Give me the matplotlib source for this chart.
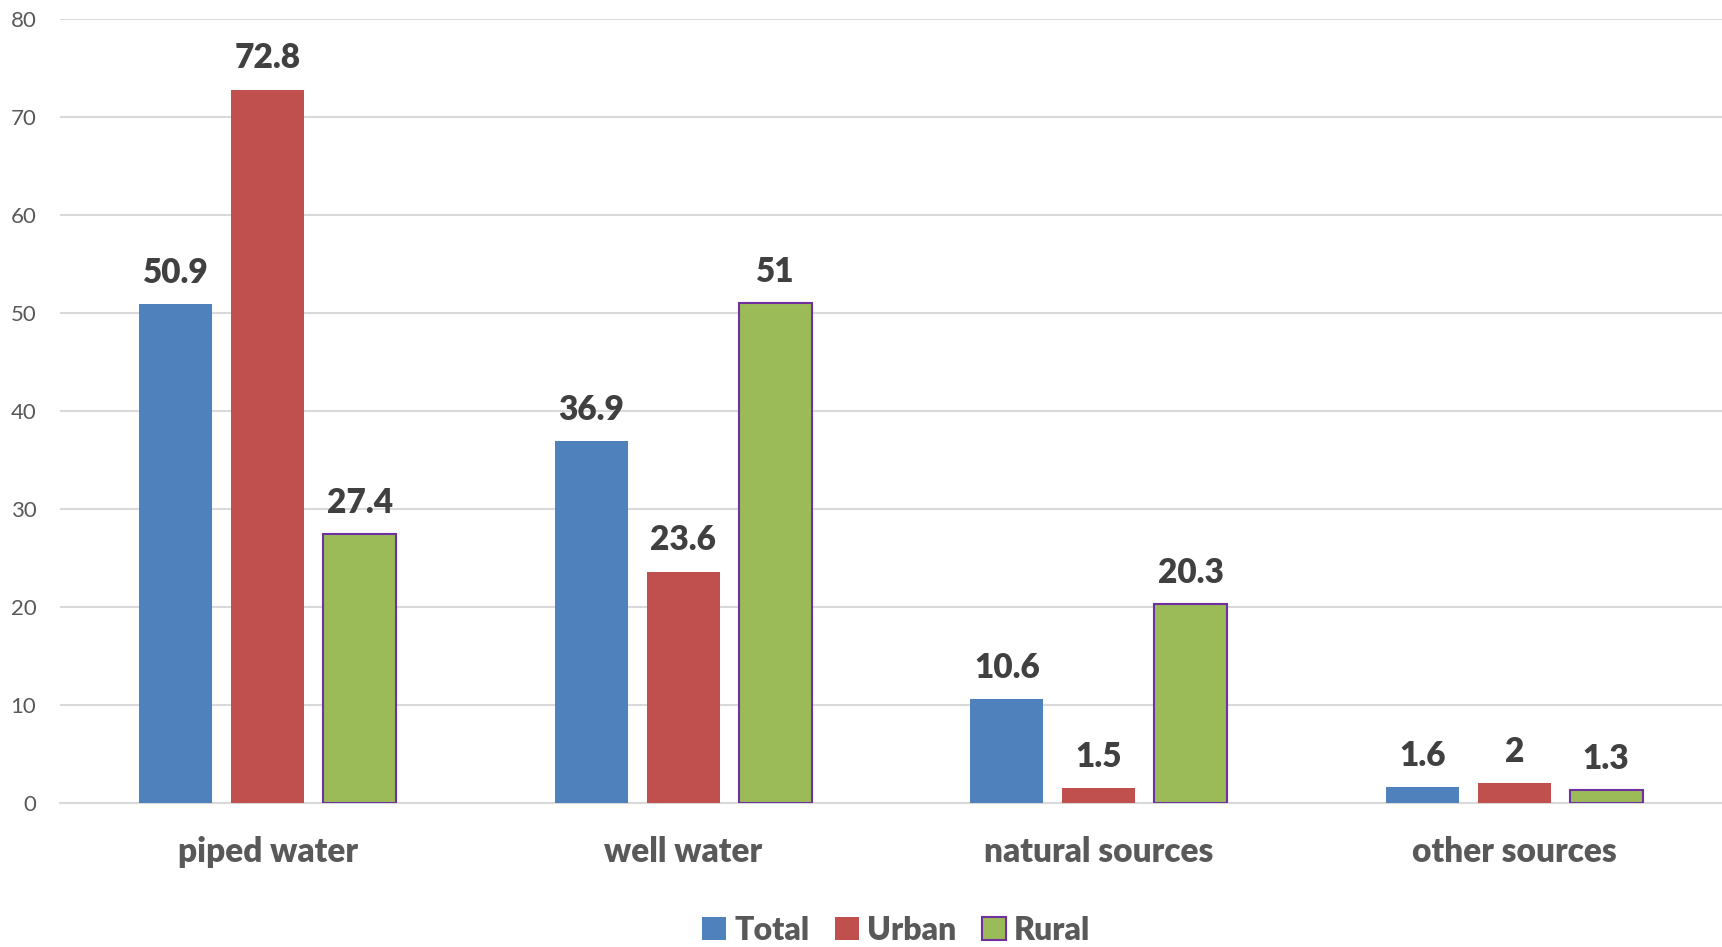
import matplotlib
matplotlib.use("Agg")
import matplotlib.pyplot as plt
import numpy as np

categories = ["piped water", "well water", "natural sources", "other sources"]
total = [50.9, 36.9, 10.6, 1.6]
urban = [72.8, 23.6, 1.5, 2]
rural = [27.4, 51, 20.3, 1.3]
series_names = ["Total", "Urban", "Rural"]
colors = ["#4F81BD", "#C0504D", "#9BBB59"]
edges = [None, None, "#7030A0"]

plt.rcParams["font.family"] = ["Lato", "DejaVu Sans"]

fig = plt.figure(figsize=(17.22, 9.47), dpi=100)
ax = fig.add_axes([60 / 1722, 1 - 803 / 947, 1 - 60 / 1722, (803 - 19) / 947])

x = np.arange(len(categories))
width = 0.176
step = 0.221
for k, (vals, name, c, ec) in enumerate(zip([total, urban, rural], series_names, colors, edges)):
    pos = x + (k - 1) * step
    bars = ax.bar(pos, vals, width, color=c, label=name,
                  edgecolor=ec if ec else c, linewidth=1.5 if ec else 0, zorder=3)
    for b, v in zip(bars, vals):
        ax.annotate(f"{v:g}", (b.get_x() + b.get_width() / 2, v),
                    xytext=(0, 11), textcoords="offset points",
                    ha="center", va="bottom", fontsize=24, fontweight="heavy",
                    color="#404040")

ax.set_xlim(-0.5, len(categories) - 0.5)
ax.set_ylim(0, 80)
ax.set_yticks(range(0, 81, 10))
ax.yaxis.grid(True, color="#D9D9D9", linewidth=1.5, zorder=0)
ax.set_axisbelow(True)
for s in ["top", "right", "left"]:
    ax.spines[s].set_visible(False)
ax.spines["bottom"].set_color("#D9D9D9")
ax.spines["bottom"].set_linewidth(1.5)
ax.tick_params(axis="both", length=0)
ax.tick_params(axis="y", labelsize=16, labelcolor="#595959", pad=17)
ax.set_xticks(x)
ax.set_xticklabels(categories, fontsize=24, fontweight="heavy", color="#595959")
ax.tick_params(axis="x", pad=24)

handles, labels = ax.get_legend_handles_labels()
leg = fig.legend(handles, labels, loc="center", bbox_to_anchor=(896 / 1722, 1 - 930 / 947),
                 ncol=3, frameon=False, fontsize=23, handlelength=0.75, handleheight=0.75,
                 handletextpad=0.25, columnspacing=0.8)
for t in leg.get_texts():
    t.set_color("#595959")
    t.set_fontweight("heavy")

fig.savefig("out.png", dpi=100)
